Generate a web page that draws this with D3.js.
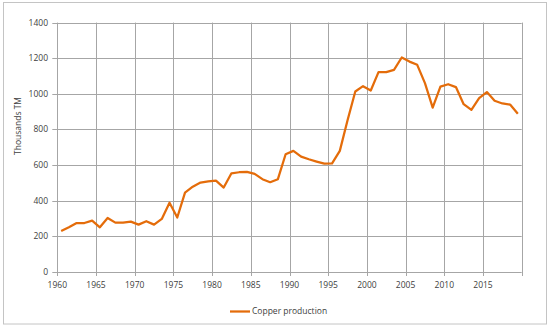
<html>
    <head>
        <script src="https://d3js.org/d3.v7.min.js"></script>
        <style>
            body { margin: 0; background: #fff; }
            text { font-family: "Open Sans", sans-serif; fill: #404040; }
        </style>
    </head>
    <body>
        <svg id="svg" width="550" height="333"></svg>
        <script>
            var years = d3.range(1960, 2020);
            var production = [
                230, 251, 275, 275, 288, 251, 303, 277, 277, 283,
                266, 285, 266, 298, 389, 306, 446, 479, 502, 509,
                513, 474, 554, 560, 562, 551, 521, 504, 521, 661,
                680, 648, 633, 620, 608, 610, 680, 852, 1013, 1043,
                1019, 1122, 1122, 1135, 1204, 1181, 1163, 1060, 923, 1041,
                1054, 1038, 942, 910, 976, 1010, 961, 946, 940, 888
            ];
            var xTicks = [1960, 1965, 1970, 1975, 1980, 1985, 1990, 1995, 2000, 2005, 2010, 2015];
            var yTicks = [0, 200, 400, 600, 800, 1000, 1200, 1400];
            var seriesName = "Copper production";
            var yTitle = "Thousands TM";

            var svg = d3.select("svg");

            // outer chart frame
            svg.append("rect")
                .attr("x", 3.5).attr("y", 2.5)
                .attr("width", 543).attr("height", 321.5)
                .attr("fill", "none")
                .attr("stroke", "#c4c4c4")
                .attr("stroke-width", 1);

            var plotL = 57.3, plotR = 521.7, plotT = 22.6, plotB = 272;

            var x = d3.scaleLinear().domain([1960, 2020]).range([plotL, plotR]);
            var y = d3.scaleLinear().domain([0, 1400]).range([plotB, plotT]);

            var grid = svg.append("g");
            grid.selectAll(".h").data(yTicks).enter().append("line")
                .attr("x1", plotL - 5).attr("x2", plotR)
                .attr("y1", function(d){ return Math.round(y(d)) + 0.5; })
                .attr("y2", function(d){ return Math.round(y(d)) + 0.5; })
                .attr("stroke", "#a6a6a6").attr("stroke-width", 1);
            grid.selectAll(".v").data(xTicks.concat([2020])).enter().append("line")
                .attr("x1", function(d){ return Math.round(x(d)) + 0.5; })
                .attr("x2", function(d){ return Math.round(x(d)) + 0.5; })
                .attr("y1", plotT).attr("y2", plotB + 4)
                .attr("stroke", "#a6a6a6").attr("stroke-width", 1);

            svg.append("g").selectAll("text").data(yTicks).enter().append("text")
                .attr("x", 48).attr("y", function(d){ return y(d); })
                .attr("dy", "0.35em")
                .attr("text-anchor", "end")
                .attr("font-size", 8.5)
                .text(function(d){ return d; });

            svg.append("g").selectAll("text").data(xTicks).enter().append("text")
                .attr("x", function(d){ return x(d); }).attr("y", 285)
                .attr("dy", "0.35em")
                .attr("text-anchor", "middle")
                .attr("font-size", 8.5)
                .text(function(d){ return d; });

            svg.append("text")
                .attr("transform", "translate(18,126) rotate(-90)")
                .attr("text-anchor", "middle")
                .attr("dy", "0.35em")
                .attr("font-size", 8.5)
                .text(yTitle);

            var line = d3.line()
                .x(function(d, i){ return x(years[i] + 0.5); })
                .y(function(d){ return y(d); });

            svg.append("path")
                .datum(production)
                .attr("d", line)
                .attr("fill", "none")
                .attr("stroke", "#e46c0a")
                .attr("stroke-width", 2.25)
                .attr("stroke-linejoin", "round");

            // legend
            svg.append("line")
                .attr("x1", 230).attr("x2", 250)
                .attr("y1", 311.5).attr("y2", 311.5)
                .attr("stroke", "#e46c0a").attr("stroke-width", 2.25);
            svg.append("text")
                .attr("x", 252).attr("y", 311.5)
                .attr("dy", "0.35em")
                .attr("font-size", 8.5)
                .text(seriesName);
        </script>
    </body>
</html>
